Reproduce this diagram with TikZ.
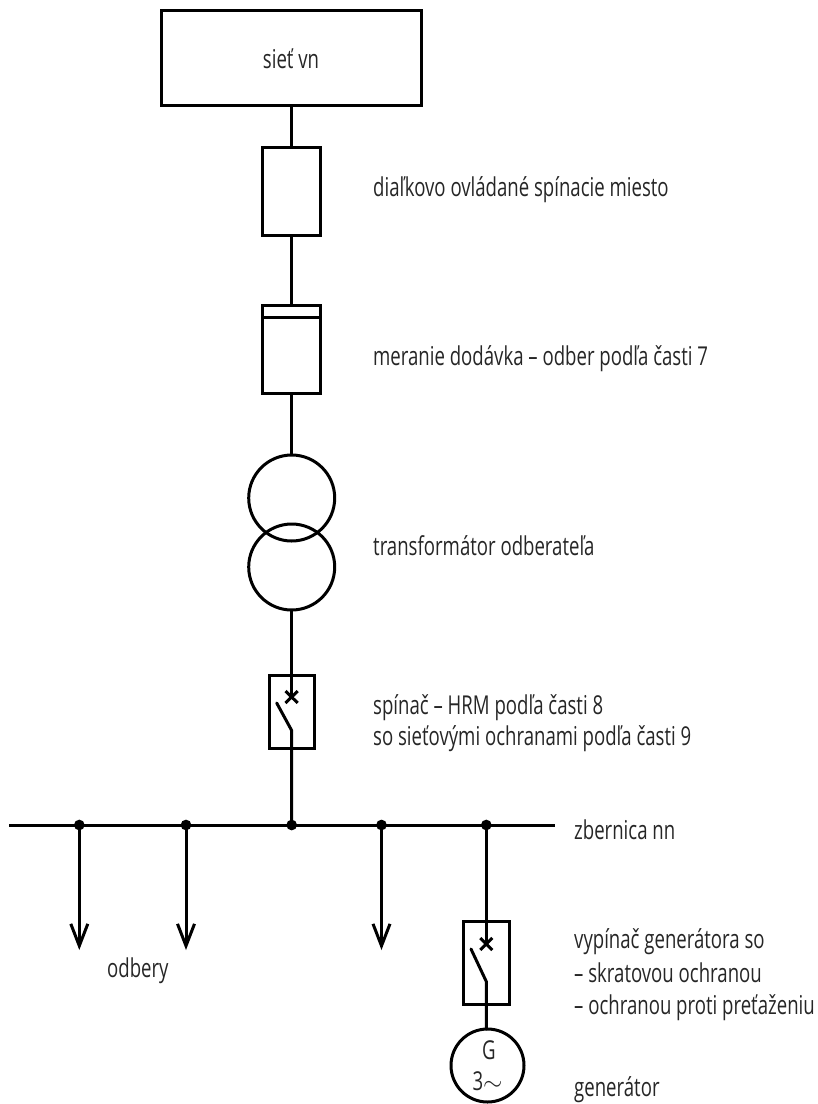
\documentclass[tikz,border=0pt]{standalone}
\usepackage{fontspec}
\usetikzlibrary{arrows.meta}
\setmainfont[FakeStretch=0.715]{Open Sans}
\begin{document}
\begin{tikzpicture}[x=1pt,y=-1pt,
  wire/.style={line width=3pt,draw=black},
  box/.style={draw=black,line width=3pt,rectangle,inner sep=0pt,outer sep=0pt,fill=none},
  ring/.style={draw=black,line width=3pt,circle,inner sep=0pt,outer sep=0pt,fill=none},
  dot/.style={fill=black,circle,inner sep=0pt,minimum size=10.7pt},
  lab/.style={anchor=base west,inner sep=0pt,font=\fontsize{26}{30}\selectfont,text=black!85},
  load/.style={wire,-{Straight Barb[length=22pt,width=17pt,line width=3pt]}}
]
\useasboundingbox (0,0) rectangle (818,1104);
\node[box,minimum width=260pt,minimum height=95pt] (net) at (291.5,58) {};
\node[lab,anchor=base] (netl) at (291,68.3) {sieť vn};
\node[box,minimum width=58.5pt,minimum height=88pt] (sw) at (291.7,191) {};
\node[box,minimum width=58.5pt,minimum height=88pt] (meter) at (291.7,349.5) {};
\coordinate (mL) at (262.5,317.7);
\coordinate (mR) at (321,317.7);
\node[ring,minimum size=86pt] (t1) at (291.7,498) {};
\node[ring,minimum size=86pt] (t2) at (291.7,567) {};
\node[box,minimum width=45.5pt,minimum height=73pt] (brk) at (291.75,712) {};
\coordinate (bt) at (291.7,697);
\coordinate (bp) at (291.7,730.5);
\coordinate (bb) at (276.7,703);
\coordinate (c1) at (285.5,691);
\coordinate (c2) at (297.7,703);
\coordinate (c3) at (285.5,703);
\coordinate (c4) at (297.7,691);
\coordinate (busL) at (9,825);
\coordinate (busR) at (555,825);
\node[dot] (d1) at (79.3,825) {};
\node[dot] (d2) at (186,825) {};
\node[dot] (d3) at (291.7,825) {};
\node[dot] (d4) at (381.5,825) {};
\node[dot] (d5) at (486.3,825) {};
\coordinate (a1) at (79.3,950);
\coordinate (a2) at (186,950);
\coordinate (a4) at (381.5,950);
\node[box,minimum width=46pt,minimum height=83pt] (gbrk) at (486.5,962.5) {};
\coordinate (gt) at (486.3,944);
\coordinate (gp) at (486.3,981.5);
\coordinate (gb) at (471,949);
\coordinate (g1) at (480.3,938);
\coordinate (g2) at (492.3,950);
\coordinate (g3) at (480.3,950);
\coordinate (g4) at (492.3,938);
\node[ring,minimum size=73pt] (gen) at (487.5,1065.5) {};
\node[lab,anchor=base] (gl1) at (489,1059) {G};
\node[lab,anchor=base] (gl2) at (487.5,1090.6) {3$\sim$};

\draw[wire] (net.south -| sw.north) -- (sw.north);
\draw[wire] (sw.south) -- (meter.north);
\draw[wire] (mL) -- (mR);
\draw[wire] (meter.south) -- (t1.north);
\draw[wire] (t2.south) -- (bt);
\draw[wire] (c1) -- (c2);
\draw[wire] (c3) -- (c4);
\draw[wire,line cap=round] (bb) -- (bp) -- (d3.center);
\draw[wire] (busL) -- (busR);
\draw[load] (d1.center) -- (a1);
\draw[load] (d2.center) -- (a2);
\draw[load] (d4.center) -- (a4);
\draw[wire] (d5.center) -- (gt);
\draw[wire] (g1) -- (g2);
\draw[wire] (g3) -- (g4);
\draw[wire,line cap=round] (gb) -- (gp) -- (gen.north -| gp);

\node[lab] (l1) at (373,196.7) {diaľkovo ovládané spínacie miesto};
\node[lab] (l2) at (373,365.7) {meranie dodávka – odber podľa časti 7};
\node[lab] (l3) at (373,555) {transformátor odberateľa};
\node[lab] (l4) at (373,714.3) {spínač – HRM podľa časti 8};
\node[lab] (l5) at (373,745) {so sieťovými ochranami podľa časti 9};
\node[lab] (l6) at (574,839.3) {zbernica nn};
\node[lab] (l7) at (107,977.7) {odbery};
\node[lab] (l8) at (574,948) {vypínač generátora so};
\node[lab] (l9) at (574,982.7) {– skratovou ochranou};
\node[lab] (l10) at (574,1014) {– ochranou proti preťaženiu};
\node[lab] (l11) at (574,1096.7) {generátor};
\end{tikzpicture}
\end{document}
